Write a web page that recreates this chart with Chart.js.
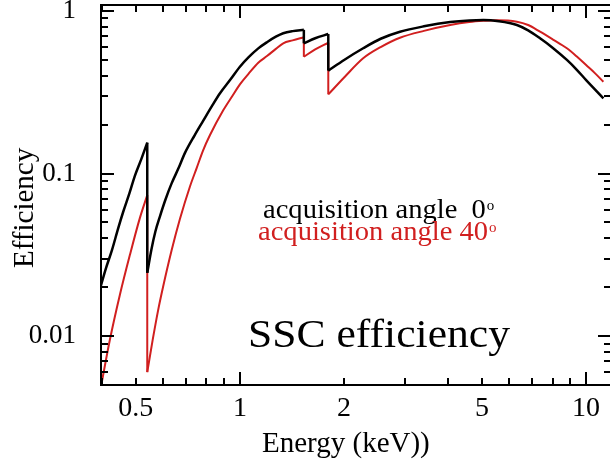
<!DOCTYPE html>
<html>
<head>
<meta charset="utf-8">
<script src="https://cdn.jsdelivr.net/npm/chart.js@4.4.1/dist/chart.umd.min.js"></script>
<style>
  html, body { margin: 0; padding: 0; background: #fff; overflow: hidden; }
  #chart { position: absolute; left: 0; top: 0; }
</style>
</head>
<body>
<canvas id="chart" width="616" height="464"></canvas>
<script>
// acquisition angle 0 deg (black)
const energy0 = [0.397, 0.41, 0.427, 0.445, 0.46, 0.48, 0.497, 0.52, 0.54, 0.54, 0.555, 0.57, 0.587, 0.61, 0.635, 0.665, 0.694, 0.74, 0.783, 0.83, 0.875, 0.94, 1.0, 1.06, 1.13, 1.2, 1.27, 1.334, 1.42, 1.53, 1.53, 1.65, 1.80, 1.80, 2.0, 2.27, 2.55, 2.9, 3.4, 4.05, 4.6, 5.05, 5.6, 6.31, 6.8, 7.36, 8.0, 8.8, 9.4, 10.0, 10.6, 11.22];
const eff0 = [0.0205, 0.026, 0.0338, 0.046, 0.058, 0.076, 0.0965, 0.124, 0.155, 0.0245, 0.034, 0.044, 0.0542, 0.0695, 0.087, 0.108, 0.134, 0.172, 0.211, 0.26, 0.311, 0.38, 0.454, 0.52, 0.589, 0.645, 0.695, 0.73, 0.752, 0.766, 0.633, 0.68, 0.722, 0.43, 0.5, 0.59, 0.675, 0.746, 0.805, 0.855, 0.875, 0.88, 0.865, 0.82, 0.76, 0.679, 0.595, 0.5, 0.435, 0.376, 0.33, 0.29];

// acquisition angle 40 deg (red)
const energy40 = [0.397, 0.421, 0.45, 0.481, 0.514, 0.54, 0.54, 0.56, 0.58, 0.6, 0.635, 0.671, 0.717, 0.75, 0.783, 0.819, 0.895, 0.95, 1.0, 1.06, 1.13, 1.2, 1.27, 1.334, 1.42, 1.53, 1.53, 1.65, 1.80, 1.80, 2.0, 2.27, 2.55, 2.9, 3.4, 4.05, 4.6, 5.05, 5.5, 6.31, 6.8, 7.36, 8.0, 8.8, 9.4, 10.0, 10.6, 11.22];
const eff40 = [0.0049, 0.00945, 0.0179, 0.0315, 0.0532, 0.0737, 0.006, 0.0095, 0.0143, 0.0201, 0.0337, 0.0525, 0.083, 0.108, 0.139, 0.172, 0.245, 0.299, 0.354, 0.412, 0.481, 0.53, 0.585, 0.633, 0.66, 0.689, 0.523, 0.58, 0.638, 0.307, 0.39, 0.512, 0.6, 0.685, 0.755, 0.82, 0.855, 0.87, 0.878, 0.86, 0.82, 0.746, 0.67, 0.59, 0.525, 0.465, 0.415, 0.367];

// axis ticks
const xLabelTicks = [0.5, 1, 2, 5, 10];
const xMajorTicks = [1, 10];
const xMinorTicks = [0.4, 0.5, 0.6, 0.7, 0.8, 0.9, 2, 3, 4, 5, 6, 7, 8, 9];
const yLabelTicks = [0.01, 0.1, 1];
const yMajorTicks = [0.01, 0.1, 1];
const yMinorTicks = [0.006, 0.007, 0.008, 0.009, 0.02, 0.03, 0.04, 0.05, 0.06, 0.07, 0.08, 0.09, 0.2, 0.3, 0.4, 0.5, 0.6, 0.7, 0.8, 0.9];

const serif = '"Liberation Serif", "Times New Roman", serif';
const red = '#d11f1f';

// split a curve at the absorption edges (repeated energy) so each smooth
// piece can be drawn with monotone interpolation, plus the vertical drops
function edgeDatasets(xs, ys, color, width) {
  const pieces = [];
  let cur = [];
  xs.forEach((e, i) => {
    if (i > 0 && e === xs[i - 1]) {
      pieces.push(cur);
      pieces.push([{ x: e, y: ys[i - 1] }, { x: e, y: ys[i] }]);
      cur = [];
    }
    cur.push({ x: e, y: ys[i] });
  });
  pieces.push(cur);
  return pieces.map(pts => ({
    data: pts,
    borderColor: color,
    borderWidth: width,
    pointRadius: 0,
    cubicInterpolationMode: 'monotone',
    borderJoinStyle: 'round',
    clip: 0
  }));
}

// box round the plot with inward ticks on all four sides
const frameTicks = {
  id: 'frameTicks',
  afterDatasetsDraw(chart) {
    const { ctx, chartArea: a, scales: { x, y } } = chart;
    ctx.save();
    ctx.strokeStyle = '#000';
    ctx.lineWidth = 2;
    ctx.strokeRect(a.left, a.top, a.right - a.left, a.bottom - a.top);
    ctx.beginPath();
    const xTick = (v, len) => {
      const px = Math.round(x.getPixelForValue(v));
      ctx.moveTo(px, a.bottom); ctx.lineTo(px, a.bottom - len);
      ctx.moveTo(px, a.top); ctx.lineTo(px, a.top + len);
    };
    const yTick = (v, len) => {
      const py = Math.round(y.getPixelForValue(v));
      ctx.moveTo(a.left, py); ctx.lineTo(a.left + len, py);
      ctx.moveTo(a.right, py); ctx.lineTo(a.right - len, py);
    };
    xMinorTicks.forEach(v => xTick(v, 7));
    xMajorTicks.forEach(v => xTick(v, 13));
    yMinorTicks.forEach(v => yTick(v, 7));
    yMajorTicks.forEach(v => yTick(v, 13));
    ctx.stroke();
    ctx.restore();
  }
};

function stretchedText(ctx, str, x, y, size, color, sx, rot) {
  ctx.save();
  ctx.font = size + 'px ' + serif;
  ctx.fillStyle = color;
  ctx.textBaseline = 'alphabetic';
  ctx.translate(x, y);
  if (rot) ctx.rotate(rot);
  ctx.scale(sx, 1);
  ctx.fillText(str, 0, 0);
  const w = ctx.measureText(str).width * sx;
  ctx.restore();
  return x + w;
}

const notes = {
  id: 'notes',
  afterDraw(chart) {
    const ctx = chart.ctx;
    let end = stretchedText(ctx, 'acquisition angle  0', 263, 218, 28, '#000', 1.02);
    stretchedText(ctx, 'o', end + 1, 210, 15, '#000', 1);
    end = stretchedText(ctx, 'acquisition angle 40', 258, 240, 28, red, 1.02);
    stretchedText(ctx, 'o', end + 1, 232, 15, red, 1);
    stretchedText(ctx, 'SSC efficiency', 248, 347, 40, '#000', 1.09);
    // axis titles
    stretchedText(ctx, 'Energy (keV))', 262, 452, 29, '#000', 1.0);
    stretchedText(ctx, 'Efficiency', 33, 268, 29, '#000', 1.0, -Math.PI / 2);
  }
};

new Chart(document.getElementById('chart'), {
  type: 'line',
  data: {
    datasets: [
      ...edgeDatasets(energy0, eff0, '#000', 2.5),
      ...edgeDatasets(energy40, eff40, red, 2)
    ]
  },
  options: {
    responsive: false,
    animation: false,
    devicePixelRatio: 1,
    layout: { padding: { top: 5, right: 5, left: 0, bottom: 0 } },
    plugins: { legend: { display: false }, tooltip: { enabled: false } },
    scales: {
      x: {
        type: 'logarithmic',
        min: 0.397,
        max: 11.8,
        grid: { display: false, drawTicks: false },
        border: { display: false },
        afterBuildTicks: s => { s.ticks = xLabelTicks.map(v => ({ value: v })); },
        afterFit: s => { s.height = 79; s.paddingLeft = 0; s.paddingRight = 0; },
        ticks: {
          autoSkip: false,
          maxRotation: 0,
          padding: 7,
          color: '#000',
          font: { family: serif, size: 28 },
          callback: v => String(v)
        }
      },
      y: {
        type: 'logarithmic',
        min: 0.005,
        max: 1.089,
        grid: { display: false, drawTicks: false },
        border: { display: false },
        afterBuildTicks: s => { s.ticks = yLabelTicks.map(v => ({ value: v })); },
        afterFit: s => { s.width = 101; s.paddingTop = 0; s.paddingBottom = 0; },
        ticks: {
          autoSkip: false,
          padding: 25,
          color: '#000',
          font: { family: serif, size: 27 },
          callback: v => String(v)
        }
      }
    }
  },
  plugins: [frameTicks, notes]
});
</script>
</body>
</html>
